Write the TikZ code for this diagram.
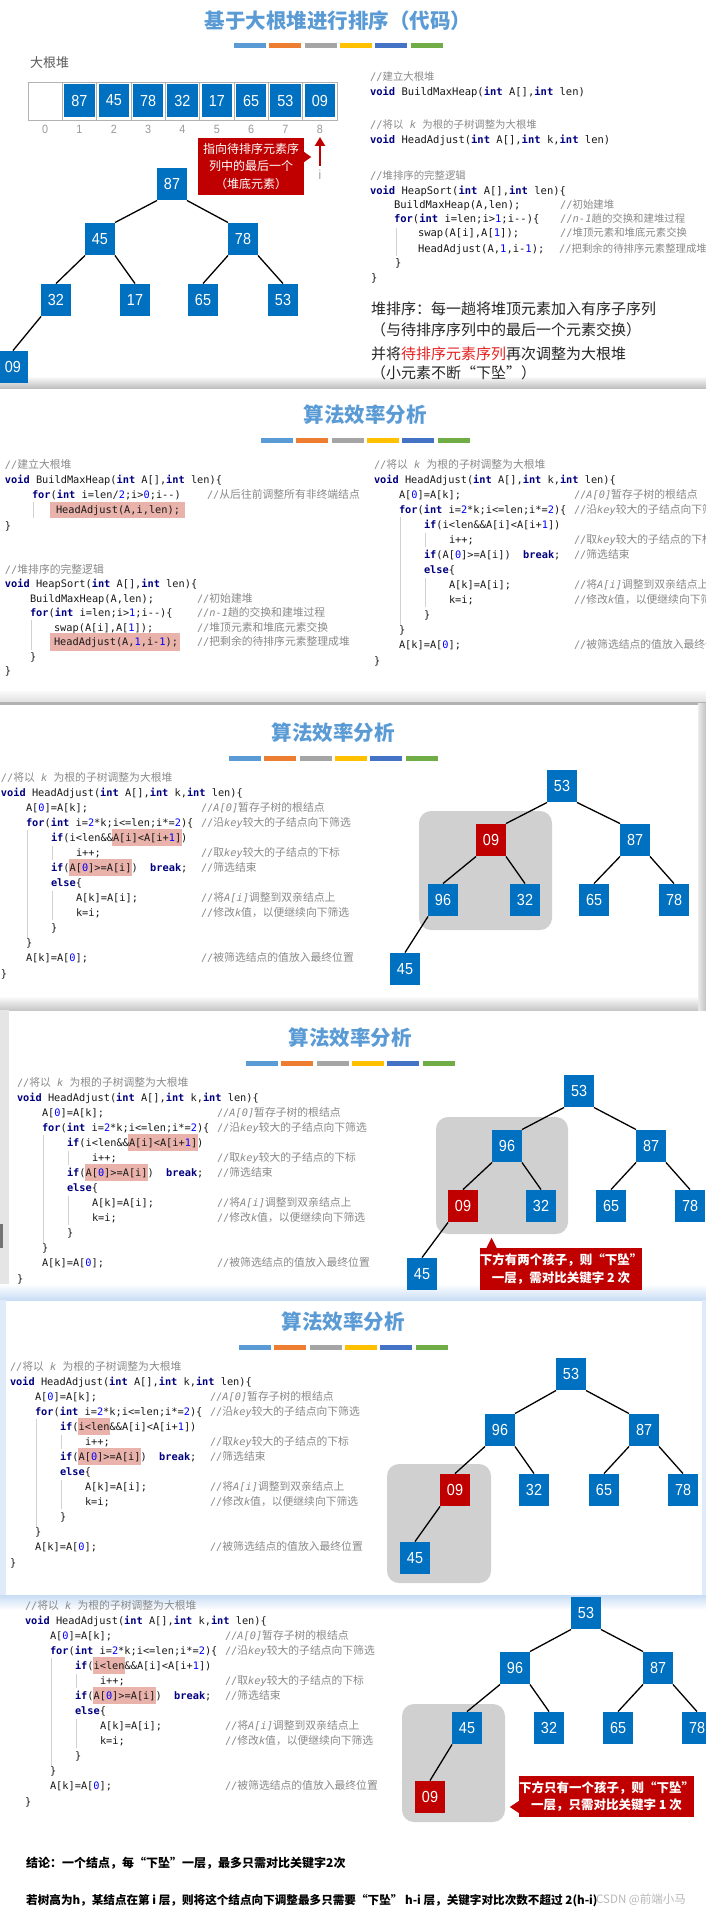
\documentclass[tikz,border=0pt]{standalone}
\usepackage{fontspec}
\setmonofont{DejaVu Sans Mono}
\newfontfamily\cjk{Noto Sans CJK SC}
\newfontfamily\numf{Liberation Sans}[FakeStretch=0.9]
\usetikzlibrary{arrows.meta}
\definecolor{titleblue}{HTML}{5B9BD5}
\definecolor{nodeblue}{HTML}{0070C0}
\definecolor{nodered}{HTML}{C00000}
\definecolor{kwc}{HTML}{000080}
\definecolor{nbc}{HTML}{0000FF}
\definecolor{cmc}{HTML}{8A8A8A}
\definecolor{hl}{HTML}{E9B2AA}
\definecolor{grayrect}{HTML}{D0D0D0}
\definecolor{bara}{HTML}{5B9BD5}
\definecolor{barb}{HTML}{ED7D31}
\definecolor{barc}{HTML}{A5A5A5}
\definecolor{bard}{HTML}{FFC000}
\definecolor{bare}{HTML}{4472C4}
\definecolor{barf}{HTML}{70AD47}
\definecolor{redtext}{HTML}{E52222}
\definecolor{glow}{HTML}{C9DDF5}
\newcommand\kw[1]{\textcolor{kwc}{\textbf{#1}}}
\newcommand\nb[1]{\textcolor{nbc}{#1}}
\newcommand\zh[1]{{\cjk\fontsize{10.8}{12}\selectfont #1}}
\newcommand\zhs[1]{{\cjk\fontsize{10.4}{12}\selectfont #1}}
\newcommand\cmt[1]{\textcolor{cmc}{//#1}}
\tikzset{
  cl/.style={anchor=base west, inner sep=0pt, outer sep=0pt, font=\ttfamily\fontsize{10.3}{12}\selectfont, text=black!90},
  clb/.style={cl, font=\ttfamily\fontsize{10.5}{12}\selectfont},
  bn/.style={fill=nodeblue, text=white, minimum width=29.5pt, minimum height=32.5pt, inner sep=0pt, font=\numf\fontsize{16}{16}\selectfont},
  rn/.style={bn, fill=nodered},
  tedge/.style={line width=1.3pt, black},
  ttl/.style={font=\cjk\bfseries\fontsize{20.5}{22}\selectfont, text=titleblue, inner sep=0pt},
  guide/.style={black!18, line width=0.6pt},
  grp/.style={fill=grayrect, rounded corners=12pt},
  callout/.style={fill=nodered, text=white, inner sep=0pt, font=\cjk\fontsize{12}{17.5}\selectfont, align=center},
  desc/.style={anchor=west, inner sep=0pt, font=\cjk\fontsize{15}{18}\selectfont, text=black!85},
  idx/.style={inner sep=0pt, font=\numf\fontsize{12}{12}\selectfont, text=black!40},
}
\newcommand\cbar[2]{%
  \foreach \c [count=\k from 0] in {bara,barb,barc,bard,bare,barf}
    \fill[\c] (#1+\k*35.3,#2-2.5) rectangle ++(32,5);}
\newcommand\heapedges[1]{%
  \draw[tedge] (#1a.south west) -- (#1b.north east);
  \draw[tedge] (#1a.south east) -- (#1c.north west);
  \draw[tedge] (#1b.south west) -- (#1d.north);
  \draw[tedge] (#1b.south east) -- (#1e.north);
  \draw[tedge] (#1c.south west) -- (#1f.north);
  \draw[tedge] (#1c.south east) -- (#1g.north);
  \draw[tedge] (#1d.south west) -- (#1h.north);}
\newcommand\headadj[4]{%
\begin{scope}[shift={(#1,#2)}]
\ifcase#3\or
  \fill[hl] (110.8,51.8) rectangle ++(70,17.3);
  \fill[hl] (67.5,81.8) rectangle ++(63.8,17.3);
\or
  \fill[hl] (67.5,51.8) rectangle ++(32.9,17.3);
  \fill[hl] (67.5,81.8) rectangle ++(63.8,17.3);
\fi
\draw[guide] (26,53) -- (26,161);
\draw[guide] (51,69) -- (51,83);
\draw[guide] (51,114) -- (51,143);
\node[cl] (#4-0) at (0,4) {\cmt{\zh{将以} \textit{k} \zh{为根的子树调整为大根堆}}};
\node[cl] (#4-1) at (0,19.08) {\kw{void} HeadAdjust(\kw{int} A[],\kw{int} k,\kw{int} len)\{};
\node[cl] (#4-2) at (25,34.16) {A[\nb{0}]=A[k];};
\node[cl] (#4-2c) at (200,34.16) {\cmt{\textit{A[0]}\zh{暂存子树的根结点}}};
\node[cl] (#4-3) at (25,49.24) {\kw{for}(\kw{int} i=\nb{2}*k;i<=len;i*=\nb{2})\{};
\node[cl] (#4-3c) at (200,49.24) {\cmt{\zh{沿}\textit{key}\zh{较大的子结点向下筛选}}};
\node[cl] (#4-4) at (50,64.32) {\kw{if}(i<len\&\&A[i]<A[i+\nb{1}])};
\node[cl] (#4-5) at (75,79.4) {i++;};
\node[cl] (#4-5c) at (200,79.4) {\cmt{\zh{取}\textit{key}\zh{较大的子结点的下标}}};
\node[cl] (#4-6) at (50,94.48) {\kw{if}(A[\nb{0}]>=A[i])\ \ \kw{break};};
\node[cl] (#4-6c) at (200,94.48) {\cmt{\zh{筛选结束}}};
\node[cl] (#4-7) at (50,109.56) {\kw{else}\{};
\node[cl] (#4-8) at (75,124.64) {A[k]=A[i];};
\node[cl] (#4-8c) at (200,124.64) {\cmt{\zh{将}\textit{A[i]}\zh{调整到双亲结点上}}};
\node[cl] (#4-9) at (75,139.72) {k=i;};
\node[cl] (#4-9c) at (200,139.72) {\cmt{\zh{修改}\textit{k}\zh{值，以便继续向下筛选}}};
\node[cl] (#4-10) at (50,154.8) {\}};
\node[cl] (#4-11) at (25,169.88) {\}};
\node[cl] (#4-12) at (25,184.96) {A[k]=A[\nb{0}];};
\node[cl] (#4-12c) at (200,184.96) {\cmt{\zh{被筛选结点的值放入最终位置}}};
\node[cl] (#4-13) at (0,200.04) {\}};
\end{scope}}
\begin{document}
\begin{tikzpicture}[x=1pt,y=-1pt]
\useasboundingbox (0,0) rectangle (706,1910);
\clip (0,0) rectangle (706,1910);
\fill[white] (0,0) rectangle (706,1910);
% ---------- panel backgrounds / shadows ----------
\shade[top color=white, bottom color=black!25] (0,376) rectangle (706,388);
\shade[top color=white, bottom color=black!12] (0,689) rectangle (706,702);
\fill[black!30] (0,702) rectangle (706,704.5);
\shade[left color=black!8, right color=black!24] (698,703) rectangle (706,1010);
\shade[top color=white, bottom color=black!22] (0,996) rectangle (698,1010);
\fill[black!10] (0,1010) rectangle (9,1290);
\fill[black!55] (0,1224) rectangle (2.5,1248);
\shade[top color=white, bottom color=glow] (0,1284) rectangle (706,1300);
\fill[glow!60] (0,1300) rectangle (6,1595);
\fill[glow!60] (702,1300) rectangle (706,1595);
\shade[top color=glow, bottom color=white] (0,1595) rectangle (706,1610);
% ---------- panel 1 ----------
\node[ttl] (h1) at (338,21) {基于大根堆进行排序（代码）};
\cbar{234}{46}
\node[anchor=west, inner sep=0pt, font=\cjk\fontsize{13}{14}\selectfont, text=black!65] (lbl) at (30,63) {大根堆};
\draw[black!30, line width=0.6pt] (28,82) rectangle (337,120);
\foreach \k in {1,...,8} \draw[black!30, line width=0.6pt] (28+\k*34.33,82) -- (28+\k*34.33,120);
\foreach \v [count=\k] in {87,45,78,32,17,65,53,09}
  \node[bn, minimum width=30.5pt, minimum height=33pt] (arr\k) at (28+\k*34.33+17.17,100.5) {\v};
\foreach \k in {0,...,8} \node[idx] (ix\k) at (28+\k*34.33+17.17,129) {\k};
\node[callout, minimum width=106pt, minimum height=57pt] (co1) at (251,166.5) {指向待排序元素序\\列中的最后一个\\（堆底元素）};
\fill[nodered] ([yshift=14.5pt]co1.east) -- ([xshift=7pt,yshift=9.5pt]co1.east) -- ([yshift=4.5pt]co1.east) -- cycle;
\coordinate (arrS) at (320,166);
\coordinate (arrT) at (320,137);
\draw[nodered, line width=2.5pt, -{Triangle[length=9pt,width=10pt]}] (arrS) -- (arrT);
\node[idx, font=\numf\fontsize{13}{13}\selectfont] (ilab) at (320,175) {i};
\node[bn] (t1a) at (172,184) {87};
\node[bn] (t1b) at (100,239) {45};
\node[bn] (t1c) at (243,239) {78};
\node[bn] (t1d) at (56,300) {32};
\node[bn] (t1e) at (135,300) {17};
\node[bn] (t1f) at (203,300) {65};
\node[bn] (t1g) at (283,300) {53};
\node[bn] (t1h) at (13,367) {09};
\heapedges{t1}
\node[clb] (c1a) at (370,81) {\cmt{\zhs{建立大根堆}}};
\node[clb] (c1b) at (370,96) {\kw{void} BuildMaxHeap(\kw{int} A[],\kw{int} len)};
\node[clb] (c1c) at (370,129) {\cmt{\zhs{将以} \textit{k} \zhs{为根的子树调整为大根堆}}};
\node[clb] (c1d) at (370,144) {\kw{void} HeadAdjust(\kw{int} A[],\kw{int} k,\kw{int} len)};
\node[clb] (c1e) at (370,180) {\cmt{\zhs{堆排序的完整逻辑}}};
\node[clb] (c1f) at (370,195) {\kw{void} HeapSort(\kw{int} A[],\kw{int} len)\{};
\draw[guide] (396,228) -- (396,256);
\node[clb] (c1g) at (394,209) {BuildMaxHeap(A,len);};
\node[clb] (c1gc) at (560,209) {\cmt{\zhs{初始建堆}}};
\node[clb] (c1h) at (394,223) {\kw{for}(\kw{int} i=len;i>\nb{1};i--)\{};
\node[clb] (c1hc) at (560,223) {\cmt{\textit{n-1}\zhs{趟的交换和建堆过程}}};
\node[clb] (c1i) at (418,237) {swap(A[i],A[\nb{1}]);};
\node[clb] (c1ic) at (560,237) {\cmt{\zhs{堆顶元素和堆底元素交换}}};
\node[clb] (c1j) at (418,252) {HeadAdjust(A,\nb{1},i-\nb{1});};
\node[clb] (c1jc) at (559,252) {\cmt{\zhs{把剩余的待排序元素整理成堆}}};
\node[clb] (c1k) at (395,266) {\}};
\node[clb] (c1l) at (371,281) {\}};
\node[desc] (d1) at (371,309) {堆排序：每一趟将堆顶元素加入有序子序列};
\node[desc] (d2) at (371,330) {（与待排序序列中的最后一个元素交换）};
\node[desc] (d3) at (371,354) {并将\textcolor{redtext}{待排序元素序列}再次调整为大根堆};
\node[desc] (d4) at (371,373) {（小元素不断“下坠”）};
% ---------- panel 2 ----------
\node[ttl] (h2) at (365,415) {算法效率分析};
\cbar{261}{440}
\fill[hl] (50,502) rectangle (185,518);
\fill[hl] (50,633) rectangle (180,651);
\draw[guide] (33,502) -- (33,518);
\draw[guide] (31,620) -- (31,650);
\node[cl] (p2l0) at (5,468) {\cmt{\zh{建立大根堆}}};
\node[cl] (p2l1) at (5,483) {\kw{void} BuildMaxHeap(\kw{int} A[],\kw{int} len)\{};
\node[cl] (p2l2) at (32,498) {\kw{for}(\kw{int} i=len/\nb{2};i>\nb{0};i--)};
\node[cl] (p2l2c) at (207,498) {\cmt{\zh{从后往前调整所有非终端结点}}};
\node[cl] (p2l3) at (56,513) {HeadAdjust(A,i,len);};
\node[cl] (p2l4) at (5,529) {\}};
\node[cl] (p2l5) at (5,573) {\cmt{\zh{堆排序的完整逻辑}}};
\node[cl] (p2l6) at (5,587) {\kw{void} HeapSort(\kw{int} A[],\kw{int} len)\{};
\node[cl] (p2l7) at (30,602) {BuildMaxHeap(A,len);};
\node[cl] (p2l7c) at (197,602) {\cmt{\zh{初始建堆}}};
\node[cl] (p2l8) at (30,616) {\kw{for}(\kw{int} i=len;i>\nb{1};i--)\{};
\node[cl] (p2l8c) at (197,616) {\cmt{\textit{n-1}\zh{趟的交换和建堆过程}}};
\node[cl] (p2l9) at (54,631) {swap(A[i],A[\nb{1}]);};
\node[cl] (p2l9c) at (197,631) {\cmt{\zh{堆顶元素和堆底元素交换}}};
\node[cl] (p2l10) at (54,645) {HeadAdjust(A,\nb{1},i-\nb{1});};
\node[cl] (p2l10c) at (197,645) {\cmt{\zh{把剩余的待排序元素整理成堆}}};
\node[cl] (p2l11) at (30,660) {\}};
\node[cl] (p2l12) at (5,674) {\}};
\headadj{374}{464}{0}{p2r}
% ---------- panel 3 ----------
\node[ttl] (h3) at (333,733) {算法效率分析};
\cbar{229}{758}
\headadj{1}{777}{1}{p3c}
\fill[grp] (419,811) rectangle (552,930);
\node[bn] (p3a) at (562,786) {53};
\node[rn] (p3b) at (491,840) {09};
\node[bn] (p3c) at (635,840) {87};
\node[bn] (p3d) at (443,900) {96};
\node[bn] (p3e) at (525,900) {32};
\node[bn] (p3f) at (594,900) {65};
\node[bn] (p3g) at (674,900) {78};
\node[bn] (p3h) at (405,969) {45};
\heapedges{p3}
% ---------- panel 4 ----------
\node[ttl] (h4) at (350,1038) {算法效率分析};
\cbar{246}{1063}
\headadj{17}{1082}{1}{p4c}
\fill[grp] (436,1117) rectangle (568,1234);
\node[bn] (p4a) at (579,1091) {53};
\node[bn] (p4b) at (507,1146) {96};
\node[bn] (p4c) at (651,1146) {87};
\node[rn] (p4d) at (463,1206) {09};
\node[bn] (p4e) at (541,1206) {32};
\node[bn] (p4f) at (611,1206) {65};
\node[bn] (p4g) at (690,1206) {78};
\node[bn] (p4h) at (422,1274) {45};
\heapedges{p4}
\node[callout, font=\cjk\bfseries\fontsize{12.5}{17.5}\selectfont, minimum width=154pt, minimum height=42pt] (co4) at (561,1269) {下方有两个孩子，则“下坠”\\一层，需对比关键字 2 次};
\fill[nodered] ([xshift=7pt]co4.north west) -- ([xshift=12pt,yshift=10pt]co4.north west) -- ([xshift=17pt]co4.north west) -- cycle;
% ---------- panel 5 ----------
\node[ttl] (h5) at (343,1322) {算法效率分析};
\cbar{239}{1347}
\headadj{10}{1366}{2}{p5c}
\fill[grp] (387,1464) rectangle (491,1583);
\node[bn] (p5a) at (571,1374) {53};
\node[bn] (p5b) at (500,1430) {96};
\node[bn] (p5c) at (644,1430) {87};
\node[rn] (p5d) at (455,1490) {09};
\node[bn] (p5e) at (534,1490) {32};
\node[bn] (p5f) at (604,1490) {65};
\node[bn] (p5g) at (683,1490) {78};
\node[bn] (p5h) at (415,1558) {45};
\heapedges{p5}
% ---------- panel 6 ----------
\headadj{25}{1605}{2}{p6c}
\fill[grp] (402,1704) rectangle (505,1822);
\node[bn] (p6a) at (586,1613) {53};
\node[bn] (p6b) at (515,1668) {96};
\node[bn] (p6c) at (658,1668) {87};
\node[bn] (p6d) at (467,1728) {45};
\node[bn] (p6e) at (549,1728) {32};
\node[bn] (p6f) at (618,1728) {65};
\node[bn] (p6g) at (697,1728) {78};
\node[rn] (p6h) at (430,1797) {09};
\heapedges{p6}
\node[callout, font=\cjk\bfseries\fontsize{12.5}{17.5}\selectfont, minimum width=169pt, minimum height=41pt] (co6) at (606.5,1796.5) {下方只有一个孩子，则“下坠”\\一层，只需对比关键字 1 次};
\fill[nodered] ([yshift=-4.5pt]co6.west) -- ([xshift=-9pt,yshift=-10.5pt]co6.west) -- ([yshift=-16.5pt]co6.west) -- cycle;
\node[anchor=base west, inner sep=0pt, font=\cjk\bfseries\fontsize{12}{14}\selectfont] (concl1) at (26,1867) {结论：一个结点，每“下坠”一层，最多只需对比关键字2次};
\node[anchor=base west, inner sep=0pt, font=\cjk\bfseries\fontsize{11.6}{14}\selectfont] (concl2) at (26,1904) {若树高为h，某结点在第 i 层，则将这个结点向下调整最多只需要“下坠” h-i 层，关键字对比次数不超过 2(h-i)};
\node[anchor=base west, inner sep=0pt, font=\cjk\fontsize{11.5}{14}\selectfont, text=black!28] (wm) at (596,1903) {CSDN @前端小马};
\end{tikzpicture}
\end{document}
